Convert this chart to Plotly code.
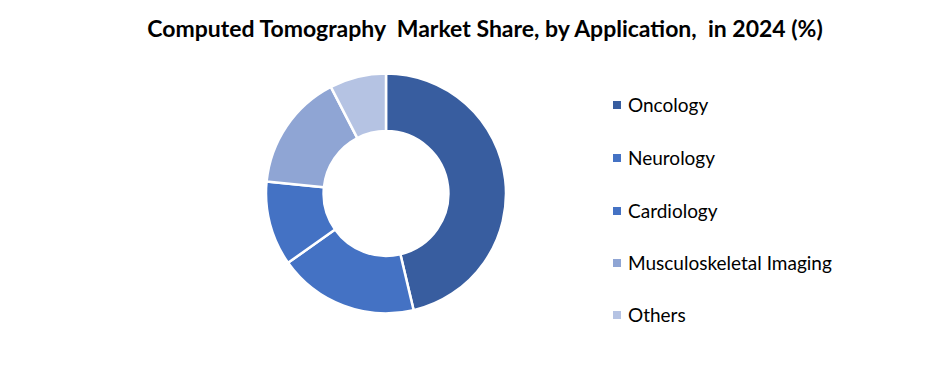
import plotly.graph_objects as go

categories = ["Oncology", "Neurology", "Cardiology", "Musculoskeletal Imaging", "Others"]
shares = [46.3, 18.9, 11.4, 15.8, 7.6]
colors = ["#385D9F", "#4472C4", "#4472C4", "#8FA5D4", "#B5C3E3"]
title_text = "Computed Tomography  Market Share, by Application,  in 2024 (%)"

W, H = 940, 372
fig = go.Figure()
fig.add_trace(go.Pie(
    labels=categories, values=shares, hole=0.52, sort=False, direction="clockwise",
    rotation=0, marker=dict(colors=colors, line=dict(color="white", width=2.5)),
    textinfo="none", hoverinfo="label+percent", showlegend=False,
    domain=dict(x=[266 / W, 506 / W], y=[1 - 313.5 / H, 1 - 73.5 / H]),
))

legend_y = [105, 158, 211, 263, 315]
for cat, col, yy in zip(categories, colors, legend_y):
    fig.add_shape(type="rect", xref="paper", yref="paper",
                  x0=613 / W, x1=621 / W, y0=1 - (yy + 4) / H, y1=1 - (yy - 4) / H,
                  fillcolor=col, line=dict(width=0))
    fig.add_annotation(text=cat, xref="paper", yref="paper", x=626 / W, y=1 - (yy - 0.5) / H,
                       xanchor="left", yanchor="middle", showarrow=False,
                       font=dict(family="Lato", size=19, color="#000000"))

fig.update_layout(
    width=W, height=H, margin=dict(l=0, r=0, t=0, b=0),
    paper_bgcolor="white", plot_bgcolor="white",
    title=dict(text="<b>" + title_text + "</b>", x=485 / W, xanchor="center",
               y=1 - 29 / H, yanchor="middle",
               font=dict(family="Lato", size=23, color="#000000")),
)
fig.write_html("out.html")
